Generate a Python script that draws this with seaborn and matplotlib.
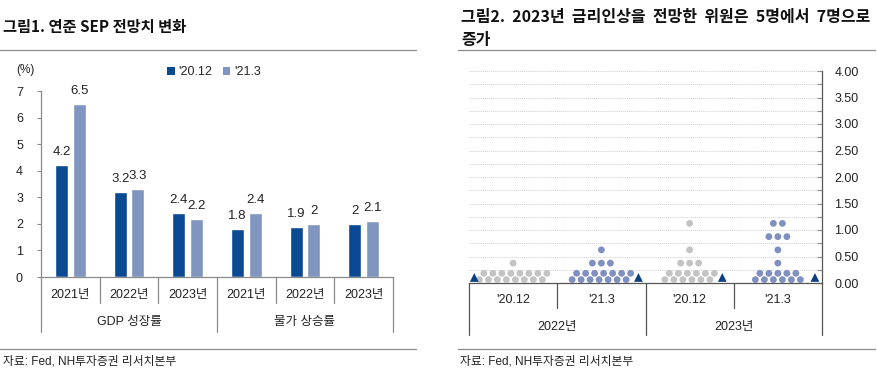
import numpy as np
import pandas as pd
import matplotlib
matplotlib.use('Agg')
import matplotlib.pyplot as plt
import seaborn as sns
from matplotlib.patches import Patch
import matplotlib.transforms as mtransforms

# ---------------- Data: left chart (SEP projections) ----------------
years = ['2021년', '2022년', '2023년', '2021년', '2022년', '2023년']
groups = ['GDP 성장률', '물가 상승률']
series_names = ["'20.12", "'21.3"]
sep_2012 = [4.2, 3.2, 2.4, 1.8, 1.9, 2.0]
sep_2103 = [6.5, 3.3, 2.2, 2.4, 2.0, 2.1]
left_yticks = [0, 1, 2, 3, 4, 5, 6, 7]

# ---------------- Data: right chart (dot plot) ----------------
dot_cats = ["'20.12", "'21.3", "'20.12", "'21.3"]
dot_years = ['2022년', '2023년']
dot_rates = [0.125, 0.375, 0.625, 0.875, 1.125]
dots_2022_2012 = [16, 1, 0, 0, 0]
dots_2022_2103 = [14, 3, 1, 0, 0]
dots_2023_2012 = [12, 3, 1, 0, 1]
dots_2023_2103 = [11, 1, 1, 3, 2]
median_rates = [0.125, 0.125, 0.125, 0.125]
right_yticks = [0.0, 0.5, 1.0, 1.5, 2.0, 2.5, 3.0, 3.5, 4.0]

# ---------------- Style ----------------
sns.set_theme(style='white')
plt.rcParams['font.family'] = ['Liberation Sans', 'Noto Sans CJK KR']
DARK = '#0A4A92'
LIGHT = '#8095C0'
GRAYDOT = '#C3C3C3'
BLUEDOT = '#7E8FC0'
TRI = '#0B3F80'
TXT = '#222222'
RULE = '#8A8A8A'

fig = plt.figure(figsize=(8.77, 3.85), dpi=100)
W, H = 877, 385

def fx(px):
    return px / W

def fy(py):
    return 1 - py / H

# ---------------- Left chart ----------------
keys = [f'{groups[i // 3]}|{years[i]}' for i in range(6)]
df_left = pd.DataFrame({
    'key': keys * 2,
    'value': sep_2012 + sep_2103,
    'series': [series_names[0]] * 6 + [series_names[1]] * 6,
})
ax1 = fig.add_axes([fx(41), fy(277), fx(393) - fx(41), fy(91) - fy(277)])
sns.barplot(data=df_left, x='key', y='value', hue='series', order=keys,
            hue_order=series_names, palette=[DARK, LIGHT], width=0.6, gap=0.27,
            saturation=1, legend=False, ax=ax1, errorbar=None)
for cont in ax1.containers:
    ax1.bar_label(cont, fmt='%g', padding=5, fontsize=9.5, color=TXT)
ax1.set_xlim(-0.5, 5.5)
ax1.set_ylim(0, 7)
ax1.set_yticks(left_yticks)
ax1.set_yticklabels([str(v) for v in left_yticks], fontsize=9, color=TXT)
ax1.set_xticks([])
ax1.set_xlabel('')
ax1.set_ylabel('')
for s in ['top', 'right']:
    ax1.spines[s].set_visible(False)
for s in ['left', 'bottom']:
    ax1.spines[s].set_color(RULE)
    ax1.spines[s].set_linewidth(0.9)
ax1.tick_params(axis='y', which='major', left=True, length=3, width=0.8,
                color=RULE, pad=10, direction='out')
tr1 = mtransforms.blended_transform_factory(ax1.transData, ax1.transAxes)
for b in [-0.5, 0.5, 1.5, 2.5, 3.5, 4.5, 5.5]:
    depth = -0.296 if b in (-0.5, 2.5, 5.5) else -0.14
    ax1.plot([b, b], [0, depth], transform=tr1, color=RULE, lw=0.9, clip_on=False)
for i, y in enumerate(years):
    ax1.text(i, -0.097, y, transform=tr1, ha='center', va='center', fontsize=9, color=TXT)
for g, gname in enumerate(groups):
    ax1.text(1 + 3 * g, -0.242, gname, transform=tr1, ha='center', va='center',
             fontsize=9, color=TXT)
fig.text(fx(25), fy(70), '(%)', ha='center', va='center', fontsize=8.5, color=TXT)
handles = [Patch(facecolor=DARK, edgecolor='none'), Patch(facecolor=LIGHT, edgecolor='none')]
fig.legend(handles, series_names, loc='center', bbox_to_anchor=(fx(214), fy(72)), ncol=2,
           frameon=False, fontsize=9, handlelength=0.6, handleheight=0.6,
           handletextpad=0.3, columnspacing=0.8)

# ---------------- Right chart ----------------
ax2 = fig.add_axes([fx(469), fy(283), fx(822) - fx(469), fy(71) - fy(283)])
all_dots = [dots_2022_2012, dots_2022_2103, dots_2023_2012, dots_2023_2103]
rows = []
for ci, counts in enumerate(all_dots):
    center = ci + 0.5
    for rate, n in zip(dot_rates, counts):
        for k in range(n):
            if rate == dot_rates[0]:
                xo = (k - (n - 1) / 2) * 0.051
                yo = -0.062 if k % 2 == 0 else 0.058
            else:
                xo = (k - (n - 1) / 2) * 0.102
                yo = 0.0
            rows.append({'x': center + xo, 'y': rate + yo, 'series': dot_cats[ci]})
df_dots = pd.DataFrame(rows)
sns.scatterplot(data=df_dots, x='x', y='y', hue='series', hue_order=series_names,
                palette=[GRAYDOT, BLUEDOT], s=24, edgecolor='none', linewidth=0,
                legend=False, ax=ax2, clip_on=False, zorder=3)
tri_offsets = [-0.44, 0.42, 0.37, 0.42]
df_tri = pd.DataFrame({'x': [i + 0.5 + o for i, o in enumerate(tri_offsets)],
                       'y': [m - 0.02 for m in median_rates]})
sns.scatterplot(data=df_tri, x='x', y='y', marker='^', s=40, color=TRI,
                edgecolor='none', ax=ax2, clip_on=False, zorder=3, legend=False)
ax2.set_xlim(0, 4)
ax2.set_ylim(0, 4)
ax2.set_xticks([])
ax2.set_xlabel('')
ax2.set_ylabel('')
ax2.yaxis.tick_right()
ax2.set_yticks(right_yticks)
ax2.set_yticklabels([f'{v:.2f}' for v in right_yticks], fontsize=9, color=TXT)
ax2.set_yticks(np.arange(0.25, 4.0, 0.5), minor=True)
ax2.tick_params(axis='y', which='both', right=True, left=False, direction='in',
                length=3.5, width=0.8, color='#555555', pad=9)
for y in np.arange(0.25, 4.01, 0.25):
    ax2.axhline(y, color='#CFCFCF', lw=0.7, ls=(0, (1, 1)), zorder=1)
for s in ['top', 'left']:
    ax2.spines[s].set_visible(False)
ax2.spines['right'].set_color('#555555')
ax2.spines['right'].set_linewidth(0.9)
ax2.spines['bottom'].set_color('#555555')
ax2.spines['bottom'].set_linewidth(0.9)
tr2 = mtransforms.blended_transform_factory(ax2.transData, ax2.transAxes)
for b in [0, 1, 2, 3, 4]:
    depth = -0.245 if b in (0, 2, 4) else -0.118
    ax2.plot([b, b], [0, depth], transform=tr2, color='#555555', lw=0.9, clip_on=False)
for i, c in enumerate(dot_cats):
    ax2.text(i + 0.5, -0.08, c, transform=tr2, ha='center', va='center', fontsize=9, color=TXT)
for g, yname in enumerate(dot_years):
    ax2.text(1 + 2 * g, -0.208, yname, transform=tr2, ha='center', va='center',
             fontsize=9, color=TXT)

# ---------------- Titles, rules, footers ----------------
fig.text(fx(3), fy(27), '그림1. 연준 SEP 전망치 변화', ha='left', va='center',
         fontsize=11, fontweight='bold', family=['Noto Sans CJK KR'], color='#111111')
fig.text(fx(461), fy(17), '그림2.  2023년  금리인상을  전망한  위원은  5명에서  7명으로',
         ha='left', va='center', fontsize=11.5, fontweight='bold',
         family=['Noto Sans CJK KR'], color='#111111')
fig.text(fx(461), fy(40), '증가', ha='left', va='center', fontsize=11.5, fontweight='bold',
         family=['Noto Sans CJK KR'], color='#111111')
for (x0, x1) in [(0, 416), (458, 875)]:
    for yy in (50, 349):
        fig.add_artist(plt.Line2D([fx(x0), fx(x1)], [fy(yy), fy(yy)], color=RULE, lw=0.9))
fig.text(fx(3), fy(362), '자료: Fed, NH투자증권 리서치본부', ha='left', va='center',
         fontsize=8.5, color=TXT)
fig.text(fx(460), fy(362), '자료: Fed, NH투자증권 리서치본부', ha='left', va='center',
         fontsize=8.5, color=TXT)

fig.savefig('out.png', dpi=100, facecolor='white')
